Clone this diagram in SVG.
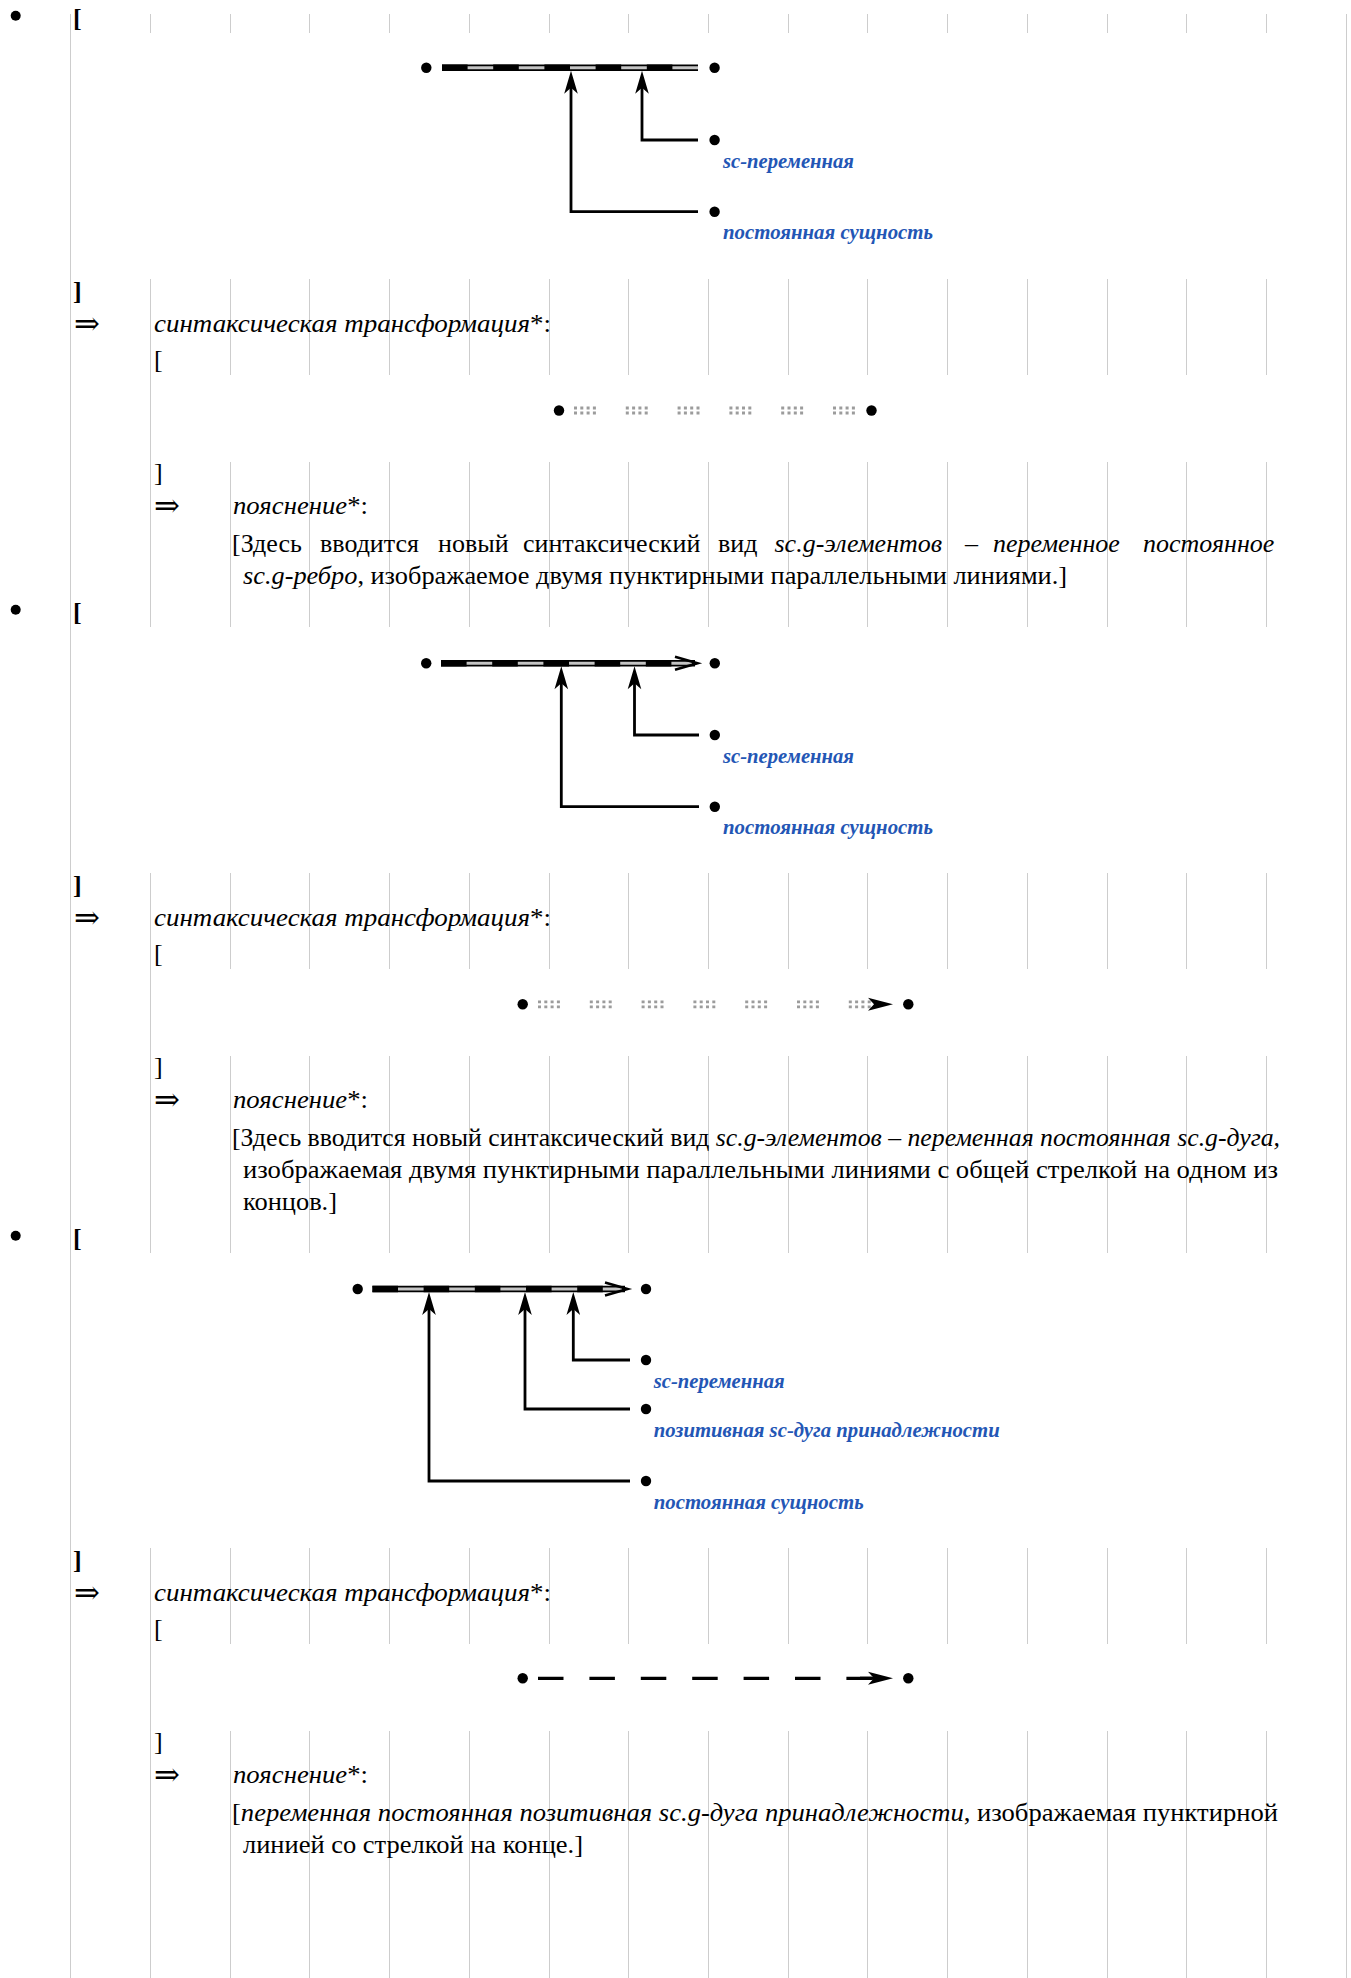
<svg xmlns="http://www.w3.org/2000/svg" width="1351" height="1978" viewBox="0 0 1351 1978">
<style>
.grid{stroke:#cdcdcd;stroke-width:1;fill:none}
.t{font-family:"Liberation Serif","Times New Roman",serif;font-size:26px;fill:#000}
.ar{font-family:"DejaVu Serif","DejaVu Sans",serif;font-size:31px;fill:#000}
.i{font-style:italic}
.b{font-weight:bold;font-size:26px}
.lbl{font-family:"Liberation Serif","Times New Roman",serif;font-size:20px;font-weight:bold;font-style:italic;fill:#2356b5}
.dot{fill:#000}
.conn{stroke:#000;stroke-width:2.8;fill:none}
.eo{stroke:#000;stroke-width:6.5;fill:none}
.ei{stroke:#c4c4c4;stroke-width:3;fill:none}
.ed{stroke:#000;stroke-width:6.5;fill:none;stroke-dasharray:25.6 25.6}
.dotted{stroke:#9c9c9c;stroke-width:2.8;fill:none;stroke-dasharray:3 3.3 3 3.3 3 3.3 3 29.9}
.dash{stroke:#000;stroke-width:3.2;fill:none;stroke-dasharray:25.5 25.9}
.chev{stroke:#000;stroke-width:2.6;fill:none;stroke-linejoin:miter}
</style>
<defs>
<path id="ahUp" d="M0,0 L6.8,23 L0,17 L-6.8,23 Z" fill="#000"/>
<path id="ahRight" d="M0,0 L-25,-6.5 L-19,0 L-25,6.5 Z" fill="#000"/>
<path id="gA" d="M0,14V33M0,279V375M0,462V627M0,873V969M0,1056V1253M0,1548V1644M0,1731V1978"/>
<path id="gB" d="M0,14V33M0,279V627M0,873V1253M0,1548V1978"/>
</defs>

<g id="grid" class="grid">
<path d="M70.5,14V1978"/>
<use href="#gB" x="150.5"/>
<use href="#gA" x="230.5"/>
<use href="#gA" x="309.5"/>
<use href="#gA" x="389.5"/>
<use href="#gA" x="469.5"/>
<use href="#gA" x="549.5"/>
<use href="#gA" x="628.5"/>
<use href="#gA" x="708.5"/>
<use href="#gA" x="788.5"/>
<use href="#gA" x="867.5"/>
<use href="#gA" x="947.5"/>
<use href="#gA" x="1027.5"/>
<use href="#gA" x="1107.5"/>
<use href="#gA" x="1186.5"/>
<use href="#gA" x="1266.5"/>
<path d="M1346.5,14V1978"/>
</g>

<!-- ===== Section 1 ===== -->
<g id="section1-text">
<circle cx="15.7" cy="15.7" r="5"/>
<text class="t b" x="73" y="27">[</text>
<text class="t b" x="73" y="300">]</text>
<text class="ar" x="74" y="334">⇒</text>
<text class="t" x="154" y="332" textLength="397" lengthAdjust="spacingAndGlyphs"><tspan class="i">синтаксическая трансформация</tspan>*:</text>
<text class="t" x="154" y="368">[</text>
<text class="t" x="154" y="481">]</text>
<text class="ar" x="154" y="516">⇒</text>
<text class="t" x="233" y="514" textLength="135" lengthAdjust="spacingAndGlyphs"><tspan class="i">пояснение</tspan>*:</text>
<text class="t" y="552"><tspan x="232">[Здесь</tspan><tspan x="320">вводится</tspan><tspan x="438">новый</tspan><tspan x="523">синтаксический</tspan><tspan x="718">вид</tspan><tspan class="i" x="774.5">sc.g-элементов</tspan><tspan class="i" x="965">–</tspan><tspan class="i" x="993">переменное</tspan><tspan class="i" x="1143">постоянное</tspan></text>
<text class="t" x="243" y="584" textLength="824" lengthAdjust="spacingAndGlyphs"><tspan class="i">sc.g-ребро</tspan>, изображаемое двумя пунктирными параллельными линиями.]</text>
</g>

<g id="diagram1">
<g id="connectors1">
<path class="eo" d="M442,67.7H698"/>
<path class="ei" d="M442,67.7H698"/>
<path class="ed" d="M442,67.7H698"/>
<path class="conn" d="M571,82V211.7H698"/>
<path class="conn" d="M642,82V140H698"/>
<use href="#ahUp" x="571" y="70.7"/>
<use href="#ahUp" x="642" y="70.7"/>
</g>
<g id="d1-n1"><circle class="dot" cx="426.3" cy="67.7" r="5.2"/></g>
<g id="d1-n2"><circle class="dot" cx="714.6" cy="67.7" r="5.2"/></g>
<g id="d1-n3"><circle class="dot" cx="714.6" cy="140" r="5.2"/><text class="lbl" x="723" y="167.5" textLength="131" lengthAdjust="spacingAndGlyphs">sc-переменная</text></g>
<g id="d1-n4"><circle class="dot" cx="714.6" cy="211.7" r="5.2"/><text class="lbl" x="723" y="239" textLength="210" lengthAdjust="spacingAndGlyphs">постоянная сущность</text></g>
</g>

<g id="diagram2">
<g id="connectors2">
<path class="dotted" d="M574,408H856M574,413H856"/>
</g>
<g id="d2-n1"><circle class="dot" cx="559" cy="410.5" r="5.2"/></g>
<g id="d2-n2"><circle class="dot" cx="871.5" cy="410.5" r="5.2"/></g>
</g>

<!-- ===== Section 2 ===== -->
<g id="section2-text">
<circle cx="15.7" cy="609.7" r="5"/>
<text class="t b" x="73" y="621">[</text>
<text class="t b" x="73" y="894">]</text>
<text class="ar" x="74" y="928">⇒</text>
<text class="t" x="154" y="926" textLength="397" lengthAdjust="spacingAndGlyphs"><tspan class="i">синтаксическая трансформация</tspan>*:</text>
<text class="t" x="154" y="962">[</text>
<text class="t" x="154" y="1075">]</text>
<text class="ar" x="154" y="1110">⇒</text>
<text class="t" x="233" y="1108" textLength="135" lengthAdjust="spacingAndGlyphs"><tspan class="i">пояснение</tspan>*:</text>
<text class="t" x="232" y="1146" textLength="1048" lengthAdjust="spacingAndGlyphs">[Здесь вводится новый синтаксический вид <tspan class="i">sc.g-элементов – переменная постоянная sc.g-дуга,</tspan></text>
<text class="t" x="243" y="1178" textLength="1035" lengthAdjust="spacingAndGlyphs">изображаемая двумя пунктирными параллельными линиями с общей стрелкой на одном из</text>
<text class="t" x="243" y="1210" textLength="94" lengthAdjust="spacingAndGlyphs">концов.]</text>
</g>

<g id="diagram3">
<g id="connectors3">
<path class="eo" d="M441,663.3H695"/>
<path class="ei" d="M441,663.3H692"/>
<path class="ed" d="M441,663.3H692"/>
<path class="chev" d="M675,656.8L697.5,663.3L675,669.8"/>
<path class="conn" d="M561.3,678V806.7H699"/>
<path class="conn" d="M634.5,678V735H699"/>
<use href="#ahUp" x="561.3" y="666.3"/>
<use href="#ahUp" x="634.5" y="666.3"/>
</g>
<g id="d3-n1"><circle class="dot" cx="426.2" cy="663.3" r="5.2"/></g>
<g id="d3-n2"><circle class="dot" cx="714.8" cy="663.3" r="5.2"/></g>
<g id="d3-n3"><circle class="dot" cx="714.8" cy="735" r="5.2"/><text class="lbl" x="723" y="762.5" textLength="131" lengthAdjust="spacingAndGlyphs">sc-переменная</text></g>
<g id="d3-n4"><circle class="dot" cx="714.8" cy="806.7" r="5.2"/><text class="lbl" x="723" y="834" textLength="210" lengthAdjust="spacingAndGlyphs">постоянная сущность</text></g>
</g>

<g id="diagram4">
<g id="connectors4">
<path class="dotted" d="M538,1001.8H872M538,1006.8H872"/>
<use href="#ahRight" x="893" y="1004.3"/>
</g>
<g id="d4-n1"><circle class="dot" cx="522.7" cy="1004.3" r="5.2"/></g>
<g id="d4-n2"><circle class="dot" cx="908.3" cy="1004.3" r="5.2"/></g>
</g>

<!-- ===== Section 3 ===== -->
<g id="section3-text">
<circle cx="15.7" cy="1235.7" r="5"/>
<text class="t b" x="73" y="1247">[</text>
<text class="t b" x="73" y="1569">]</text>
<text class="ar" x="74" y="1603">⇒</text>
<text class="t" x="154" y="1601" textLength="397" lengthAdjust="spacingAndGlyphs"><tspan class="i">синтаксическая трансформация</tspan>*:</text>
<text class="t" x="154" y="1637">[</text>
<text class="t" x="154" y="1750">]</text>
<text class="ar" x="154" y="1785">⇒</text>
<text class="t" x="233" y="1783" textLength="135" lengthAdjust="spacingAndGlyphs"><tspan class="i">пояснение</tspan>*:</text>
<text class="t" x="232" y="1821" textLength="1046" lengthAdjust="spacingAndGlyphs">[<tspan class="i">переменная постоянная позитивная sc.g-дуга принадлежности</tspan>, изображаемая пунктирной</text>
<text class="t" x="243" y="1853" textLength="340" lengthAdjust="spacingAndGlyphs">линией со стрелкой на конце.]</text>
</g>

<g id="diagram5">
<g id="connectors5">
<path class="eo" d="M372.4,1289H625"/>
<path class="ei" d="M372.4,1289H622"/>
<path class="ed" d="M372.4,1289H622"/>
<path class="chev" d="M605,1282.5L627.5,1289L605,1295.5"/>
<path class="conn" d="M573.3,1304V1360H630"/>
<path class="conn" d="M525,1304V1409H630"/>
<path class="conn" d="M429,1304V1481H630"/>
<use href="#ahUp" x="573.3" y="1292"/>
<use href="#ahUp" x="525" y="1292"/>
<use href="#ahUp" x="429" y="1292"/>
</g>
<g id="d5-n1"><circle class="dot" cx="357.7" cy="1289" r="5.2"/></g>
<g id="d5-n2"><circle class="dot" cx="646" cy="1289" r="5.2"/></g>
<g id="d5-n3"><circle class="dot" cx="646" cy="1360" r="5.2"/><text class="lbl" x="653.7" y="1387.5" textLength="131" lengthAdjust="spacingAndGlyphs">sc-переменная</text></g>
<g id="d5-n4"><circle class="dot" cx="646" cy="1409" r="5.2"/><text class="lbl" x="653.7" y="1436.5" textLength="346" lengthAdjust="spacingAndGlyphs">позитивная sc-дуга принадлежности</text></g>
<g id="d5-n5"><circle class="dot" cx="646" cy="1481" r="5.2"/><text class="lbl" x="653.7" y="1508.5" textLength="210" lengthAdjust="spacingAndGlyphs">постоянная сущность</text></g>
</g>

<g id="diagram6">
<g id="connectors6">
<path class="dash" d="M538,1678.3H872"/>
<path class="conn" d="M860,1678.3H880" style="stroke-width:3.2"/>
<use href="#ahRight" x="893" y="1678.3"/>
</g>
<g id="d6-n1"><circle class="dot" cx="522.7" cy="1678.3" r="5.2"/></g>
<g id="d6-n2"><circle class="dot" cx="908.3" cy="1678.3" r="5.2"/></g>
</g>
</svg>
